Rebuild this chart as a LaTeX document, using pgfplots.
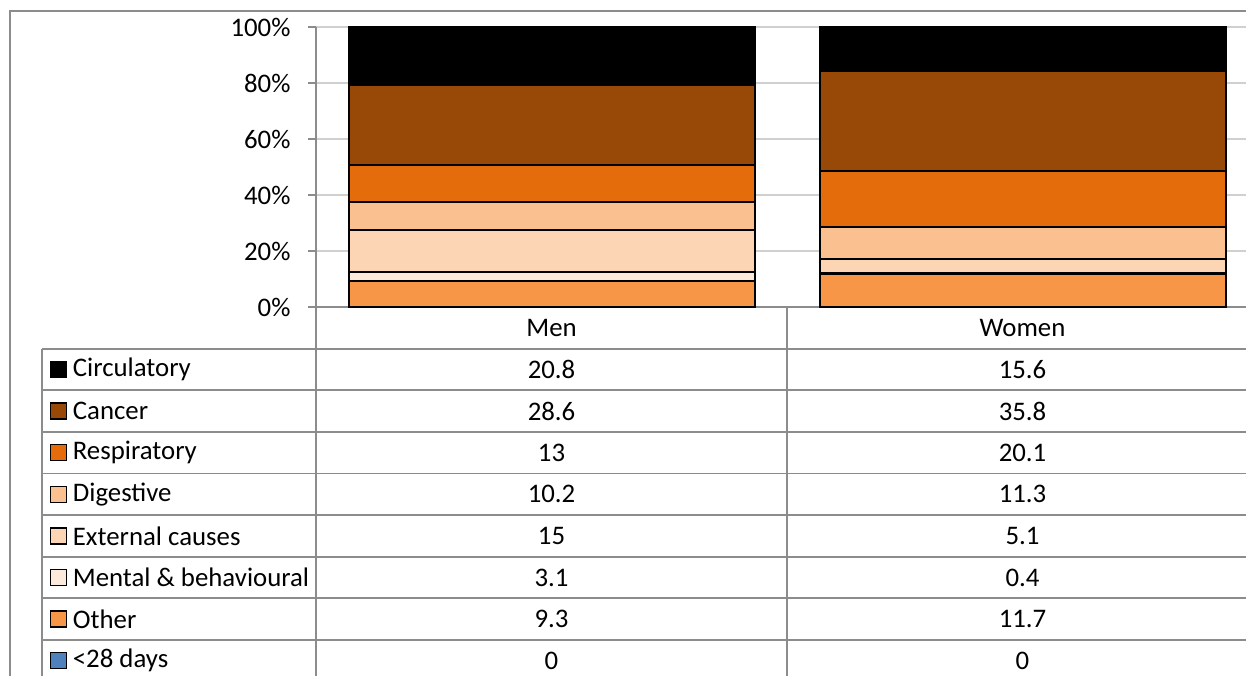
\documentclass[border=0pt]{standalone}
\usepackage{fontspec}
\setmainfont{Carlito}
\usepackage{pgfplots}
\pgfplotsset{compat=1.18}
\definecolor{cCirc}{HTML}{000000}
\definecolor{cCanc}{HTML}{984807}
\definecolor{cResp}{HTML}{E46C0A}
\definecolor{cDige}{HTML}{FAC090}
\definecolor{cExte}{HTML}{FCD5B5}
\definecolor{cMent}{HTML}{FDEADA}
\definecolor{cOthe}{HTML}{F79646}
\definecolor{cDays}{HTML}{4F81BD}
\definecolor{gridgray}{HTML}{D0D0D0}
\definecolor{axgray}{HTML}{8C8C8C}
\newcommand{\tf}{\fontsize{26.8}{32}\selectfont}
\begin{document}
\begin{tikzpicture}[x=1pt,y=1pt]
\useasboundingbox (0,0) rectangle (1246,675);
\clip (0,0) rectangle (1246,675);
\begin{axis}[
  at={(316pt,368pt)}, anchor=south west,
  scale only axis, width=942pt, height=280pt,
  xmin=0, xmax=2, ymin=0, ymax=100,
  ybar stacked, bar width=406pt,
  xtick=\empty,
  ytick={0,20,40,60,80,100},
  yticklabels={0\%,20\%,40\%,60\%,80\%,100\%},
  ymajorgrids, grid style={draw=gridgray, line width=1.5pt},
  axis x line*=bottom, axis y line*=left,
  axis line style={draw=axgray, line width=1.8pt, -},
  tick align=outside, major tick length=8pt,
  tick style={draw=axgray, line width=1.5pt},
  yticklabel style={font=\tf, anchor=east, xshift=-14pt},
  clip=false,
]
\addplot[fill=cDays, draw=none] coordinates {(0.5,0) (1.5,0)};
\addplot[fill=cOthe, draw=black, line width=2pt] coordinates {(0.5,9.3) (1.5,11.7)};
\addplot[fill=cMent, draw=black, line width=2pt] coordinates {(0.5,3.1) (1.5,0.4)};
\addplot[fill=cExte, draw=black, line width=2pt] coordinates {(0.5,15) (1.5,5.1)};
\addplot[fill=cDige, draw=black, line width=2pt] coordinates {(0.5,10.2) (1.5,11.3)};
\addplot[fill=cResp, draw=black, line width=2pt] coordinates {(0.5,13) (1.5,20.1)};
\addplot[fill=cCanc, draw=black, line width=2pt] coordinates {(0.5,28.6) (1.5,35.8)};
\addplot[fill=cCirc, draw=black, line width=2pt] coordinates {(0.5,20.8) (1.5,15.6)};
\end{axis}
% outer chart border
\draw[axgray, line width=1.8pt] (10,-5) -- (10,664) -- (1260,664);
% table grid
\foreach \k in {0,...,7} {
  \draw[axgray, line width=1.8pt] (42,{675-348.7-41.6*\k}) -- (1262,{675-348.7-41.6*\k});
}
\draw[axgray, line width=1.8pt] (42,-5) -- (42,{675-348.7});
\draw[axgray, line width=1.8pt] (316,-5) -- (316,368);
\draw[axgray, line width=1.8pt] (787,-5) -- (787,368);
% header
\node[font=\tf] at (551.5,{675-327.5}) {Men};
\node[font=\tf] at (1022.5,{675-327.5}) {Women};
% rows
\newcommand{\trow}[5]{%
  \pgfmathsetmacro{\cy}{675-369.5-41.6*#1}
  \fill[#2] (50.7,\cy-8) rectangle ++(16,16);
  \ifx#2cDays\else\draw[black, line width=1.3pt] (50.7,\cy-8) rectangle ++(16,16);\fi
  \node[font=\tf, anchor=west, inner sep=0pt] at (72.7,\cy) {#3};
  \node[font=\tf] at (551.5,\cy) {#4};
  \node[font=\tf] at (1022.5,\cy) {#5};
}
\trow{0}{cCirc}{Circulatory}{20.8}{15.6}
\trow{1}{cCanc}{Cancer}{28.6}{35.8}
\trow{2}{cResp}{Respiratory}{13}{20.1}
\trow{3}{cDige}{Digestive}{10.2}{11.3}
\trow{4}{cExte}{External causes}{15}{5.1}
\trow{5}{cMent}{Mental \& behavioural}{3.1}{0.4}
\trow{6}{cOthe}{Other}{9.3}{11.7}
\trow{7}{cDays}{<28 days}{0}{0}
\end{tikzpicture}
\end{document}
